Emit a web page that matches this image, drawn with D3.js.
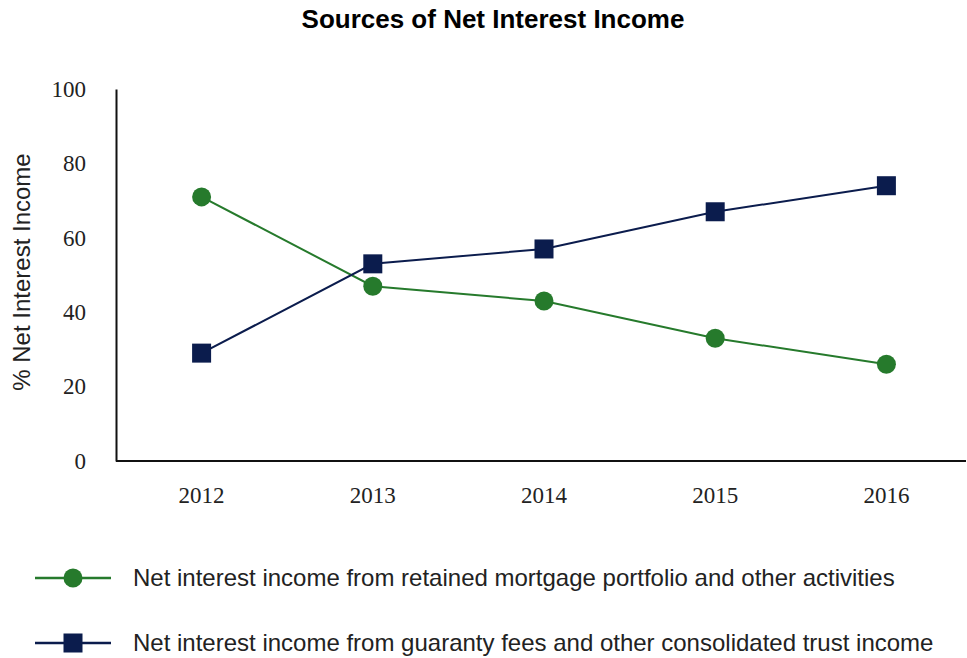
<!DOCTYPE html>
<html><head><meta charset="utf-8">
<script src="https://cdn.jsdelivr.net/npm/d3@7"></script>
<style>body{margin:0;background:#fff}svg{display:block}</style>
</head><body>
<svg id="c" width="967" height="658"></svg>
<script>
const years = ["2012","2013","2014","2015","2016"];
const retained = [71, 47, 43, 33, 26];
const guaranty = [29, 53, 57, 67, 74];
const yTicks = [0, 20, 40, 60, 80, 100];
const seriesNames = ["Net interest income from retained mortgage portfolio and other activities",
                     "Net interest income from guaranty fees and other consolidated trust income"];
const green = "#267a2c", navy = "#0b1c4d";

const svg = d3.select("#c");
const x = d3.scaleBand().domain(years).range([116, 972]);
const y = d3.scaleLinear().domain([0, 100]).range([461, 89]);
const cx = d => x(d) + x.bandwidth() / 2;
const R = 9.5;

svg.append("text").attr("x", 493).attr("y", 28).attr("text-anchor", "middle")
  .attr("font-family", "Liberation Sans, Arial").attr("font-weight", "bold").attr("font-size", 26)
  .text("Sources of Net Interest Income");

// axes
const yAxis = svg.append("g").attr("transform", "translate(116,0)")
  .call(d3.axisLeft(y).tickValues(yTicks).tickSize(0).tickPadding(30));
yAxis.select(".domain").attr("stroke", "#111").attr("stroke-width", 2);
yAxis.selectAll("text").attr("font-family", "Liberation Serif, Times New Roman").attr("font-size", 23).attr("fill", "#222");

const xAxis = svg.append("g").attr("transform", "translate(0,461)")
  .call(d3.axisBottom(x).tickSize(0).tickPadding(26));
xAxis.select(".domain").attr("d", "M116,0H966").attr("stroke", "#111").attr("stroke-width", 2);
xAxis.selectAll("text").attr("font-family", "Liberation Serif, Times New Roman").attr("font-size", 23).attr("fill", "#222");

svg.append("text").attr("transform", "translate(30,272) rotate(-90)").attr("text-anchor", "middle")
  .attr("font-family", "Liberation Sans, Arial").attr("font-size", 24).attr("fill", "#222")
  .text("% Net Interest Income");

const line = d3.line().x((d, i) => cx(years[i])).y(d => y(d));
svg.append("path").datum(retained).attr("d", line).attr("fill", "none").attr("stroke", green).attr("stroke-width", 2);
svg.append("path").datum(guaranty).attr("d", line).attr("fill", "none").attr("stroke", navy).attr("stroke-width", 2);

svg.selectAll(".pt1").data(retained).enter().append("circle")
  .attr("cx", (d, i) => cx(years[i])).attr("cy", d => y(d)).attr("r", R).attr("fill", green);
svg.selectAll(".pt2").data(guaranty).enter().append("rect")
  .attr("x", (d, i) => cx(years[i]) - R).attr("y", d => y(d) - R).attr("width", 2 * R).attr("height", 2 * R).attr("fill", navy);

// legend
const legY = [578, 643];
[green, navy].forEach((col, i) => {
  const g = svg.append("g");
  g.append("line").attr("x1", 35).attr("x2", 111).attr("y1", legY[i]).attr("y2", legY[i]).attr("stroke", col).attr("stroke-width", 2.5);
  if (i === 0) g.append("circle").attr("cx", 73).attr("cy", legY[i]).attr("r", R).attr("fill", col);
  else g.append("rect").attr("x", 73 - R).attr("y", legY[i] - R).attr("width", 2 * R).attr("height", 2 * R).attr("fill", col);
  g.append("text").attr("x", 133).attr("y", legY[i] + 8).attr("font-family", "Liberation Sans, Arial").attr("font-size", 24).attr("fill", "#222")
    .text(seriesNames[i]);
});
</script>
</body></html>
